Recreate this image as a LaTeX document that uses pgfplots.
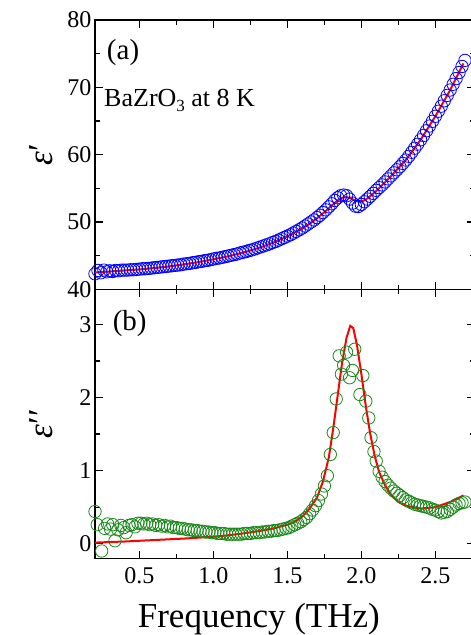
\documentclass[border=0pt]{standalone}
\usepackage{fontspec}
\setmainfont{Liberation Serif}
\usepackage{pgfplots}
\pgfplotsset{compat=1.18}
\definecolor{myblue}{RGB}{0,0,255}
\definecolor{mygreen}{RGB}{25,135,25}
\definecolor{myred}{RGB}{255,0,0}
\pgfplotsset{
  common/.style={
    scale only axis, width=379.3pt, xmin=0.2, xmax=2.763,
    xtick={0.5,1.0,1.5,2.0,2.5},
    minor x tick num=1, minor y tick num=1,
    tick align=inside, major tick length=7.5pt, minor tick length=4.5pt,
    every tick/.style={black, line width=1.2pt},
    axis line style={line width=1.6pt},
    /pgf/number format/assume math mode=true,
    tick label style={font=\rmfamily\fontsize{24}{28}\selectfont},
    label style={font=\rmfamily\fontsize{35}{40}\selectfont},
    x tick label style={yshift=-6pt},
  }
}
\pgfplotstableread{
x y
0.20 42.30
0.22 42.80
0.24 42.45
0.26 42.85
0.28 42.60
0.30 42.75
0.32 42.65
0.34 42.80
0.36 42.75
0.38 42.85
0.40 42.85
0.42 42.85
0.44 42.90
0.46 42.90
0.48 42.95
0.50 43.00
0.52 43.05
0.54 43.05
0.56 43.10
0.58 43.15
0.60 43.20
0.62 43.25
0.64 43.30
0.66 43.35
0.68 43.40
0.70 43.45
0.72 43.50
0.74 43.55
0.76 43.60
0.78 43.65
0.80 43.75
0.82 43.80
0.84 43.85
0.86 43.95
0.88 44.00
0.90 44.10
0.92 44.15
0.94 44.25
0.96 44.30
0.98 44.40
1.00 44.50
1.02 44.60
1.04 44.65
1.06 44.75
1.08 44.85
1.10 44.95
1.12 45.05
1.14 45.15
1.16 45.25
1.18 45.40
1.20 45.50
1.22 45.60
1.24 45.75
1.26 45.85
1.28 46.00
1.30 46.15
1.32 46.30
1.34 46.45
1.36 46.60
1.38 46.75
1.40 46.95
1.42 47.10
1.44 47.30
1.46 47.50
1.48 47.70
1.50 47.90
1.52 48.10
1.54 48.35
1.56 48.60
1.58 48.85
1.60 49.10
1.62 49.40
1.64 49.70
1.66 50.00
1.68 50.30
1.70 50.65
1.72 51.00
1.74 51.40
1.76 51.80
1.78 52.25
1.80 52.70
1.82 53.20
1.84 53.60
1.86 53.90
1.88 54.00
1.90 53.90
1.92 53.40
1.94 52.80
1.96 52.35
1.98 52.30
2.00 52.60
2.02 53.00
2.04 53.40
2.06 53.80
2.08 54.25
2.10 54.70
2.12 55.10
2.14 55.50
2.16 55.95
2.18 56.40
2.20 56.85
2.22 57.30
2.24 57.75
2.26 58.20
2.28 58.70
2.30 59.20
2.32 59.75
2.34 60.35
2.36 60.95
2.38 61.55
2.40 62.20
2.42 62.85
2.44 63.55
2.46 64.25
2.48 64.95
2.50 65.70
2.52 66.45
2.54 67.20
2.56 68.00
2.58 68.80
2.60 69.60
2.62 70.45
2.64 71.30
2.66 72.20
2.68 73.10
2.70 74.00
}\epsreal
\pgfplotstableread{
x y
0.20 42.50
0.30 42.65
0.40 42.80
0.50 42.95
0.60 43.15
0.70 43.40
0.80 43.70
0.90 44.05
1.00 44.45
1.10 44.90
1.20 45.45
1.30 46.10
1.40 46.90
1.50 47.85
1.60 49.05
1.65 49.75
1.70 50.55
1.75 51.45
1.80 52.45
1.84 53.20
1.87 53.60
1.90 53.70
1.93 53.50
1.96 53.15
1.99 53.00
2.02 53.20
2.05 53.65
2.10 54.60
2.15 55.70
2.20 56.80
2.30 59.20
2.40 62.20
2.50 65.70
2.60 69.60
2.69 73.55
}\epsrealfit
\pgfplotstableread{
x y
0.200 0.44
0.215 0.26
0.245 -0.10
0.265 0.21
0.285 0.27
0.305 0.20
0.320 0.26
0.335 0.04
0.355 0.19
0.375 0.25
0.395 0.22
0.410 0.15
0.430 0.25
0.450 0.26
0.470 0.23
0.490 0.28
0.510 0.28
0.530 0.27
0.550 0.28
0.570 0.26
0.590 0.27
0.610 0.25
0.630 0.26
0.650 0.24
0.670 0.25
0.690 0.23
0.710 0.24
0.730 0.22
0.750 0.22
0.770 0.21
0.790 0.21
0.810 0.20
0.830 0.19
0.850 0.19
0.870 0.18
0.890 0.18
0.910 0.17
0.930 0.17
0.950 0.16
0.970 0.16
0.990 0.15
1.010 0.15
1.030 0.14
1.050 0.14
1.070 0.14
1.090 0.13
1.110 0.13
1.130 0.13
1.150 0.13
1.170 0.13
1.190 0.13
1.210 0.14
1.230 0.14
1.250 0.14
1.270 0.15
1.290 0.15
1.310 0.15
1.330 0.16
1.350 0.16
1.370 0.17
1.390 0.17
1.410 0.18
1.430 0.18
1.450 0.19
1.470 0.20
1.490 0.21
1.510 0.22
1.530 0.24
1.550 0.26
1.570 0.28
1.590 0.30
1.610 0.33
1.630 0.36
1.650 0.41
1.670 0.46
1.690 0.52
1.710 0.59
1.730 0.68
1.750 0.79
1.770 0.93
1.790 1.22
1.810 1.52
1.830 1.98
1.850 2.57
1.865 2.32
1.880 2.44
1.900 2.62
1.920 2.27
1.940 2.37
1.955 2.66
1.990 2.04
2.010 2.30
2.030 1.95
2.050 1.72
2.065 1.45
2.085 1.26
2.100 1.13
2.120 0.99
2.140 0.91
2.160 0.85
2.180 0.80
2.200 0.76
2.220 0.72
2.240 0.69
2.260 0.66
2.280 0.63
2.300 0.60
2.320 0.58
2.340 0.56
2.360 0.54
2.380 0.53
2.400 0.52
2.420 0.51
2.440 0.50
2.460 0.49
2.480 0.47
2.500 0.46
2.520 0.44
2.540 0.42
2.560 0.43
2.580 0.44
2.600 0.47
2.620 0.50
2.640 0.53
2.660 0.55
2.680 0.56
2.700 0.57
}\epsimag
\pgfplotstableread{
x y
0.20 0.015
0.40 0.030
0.60 0.050
0.80 0.070
1.00 0.095
1.10 0.115
1.20 0.140
1.30 0.170
1.40 0.205
1.50 0.260
1.55 0.300
1.60 0.370
1.65 0.480
1.70 0.630
1.74 0.850
1.78 1.180
1.81 1.580
1.84 2.030
1.87 2.480
1.90 2.820
1.925 2.980
1.945 2.950
1.97 2.720
2.00 2.320
2.03 1.880
2.06 1.500
2.09 1.200
2.12 0.980
2.16 0.800
2.20 0.670
2.25 0.570
2.30 0.520
2.40 0.480
2.50 0.500
2.60 0.570
2.69 0.660
}\epsimagfit
\begin{document}
\begin{tikzpicture}
\begin{axis}[common,
  at={(95pt,-20pt)}, anchor=north west,
  height=269.3pt, ymin=40, ymax=80, ytick={40,50,60,70,80},
  xticklabels={},
  ylabel={\textit{ε}′},
  ylabel style={at={(axis description cs:-0.143,0.5)}, anchor=center},
]
\addplot[only marks, mark=o, mark size=6.2pt, color=myblue, mark options={line width=0.8pt}] table {\epsreal};
\addplot[myred, line width=2pt, no marks] table {\epsrealfit};
\node[anchor=center, font=\rmfamily\fontsize{29}{32}\selectfont] at (rel axis cs:0.074,0.8775) {(a)};
\node[anchor=base west, inner sep=0pt, font=\rmfamily\fontsize{26}{30}\selectfont] at (rel axis cs:0.0238,0.677) {BaZrO\raisebox{-0.35ex}{\fontsize{17}{20}\selectfont 3} at 8 K};
\end{axis}
\begin{axis}[common,
  at={(95pt,-289.3pt)}, anchor=north west,
  height=269pt, ymin=-0.2, ymax=3.48, ytick={0,1,2,3},
  xticklabels={0.5,1.0,1.5,2.0,2.5},
  ylabel={\textit{ε}′′},
  ylabel style={at={(axis description cs:-0.143,0.5)}, anchor=center},
  xlabel={Frequency (THz)},
  xlabel style={at={(axis description cs:0.432,-0.259)}, anchor=base},
]
\addplot[only marks, mark=o, mark size=6.2pt, color=mygreen, mark options={line width=0.8pt}] table {\epsimag};
\addplot[myred, line width=2pt, no marks] table {\epsimagfit};
\node[anchor=center, font=\rmfamily\fontsize{29}{32}\selectfont] at (rel axis cs:0.0914,0.871) {(b)};
\end{axis}
\pgfresetboundingbox
\useasboundingbox (0pt,0pt) rectangle (471pt,-635pt);
\end{tikzpicture}
\end{document}
